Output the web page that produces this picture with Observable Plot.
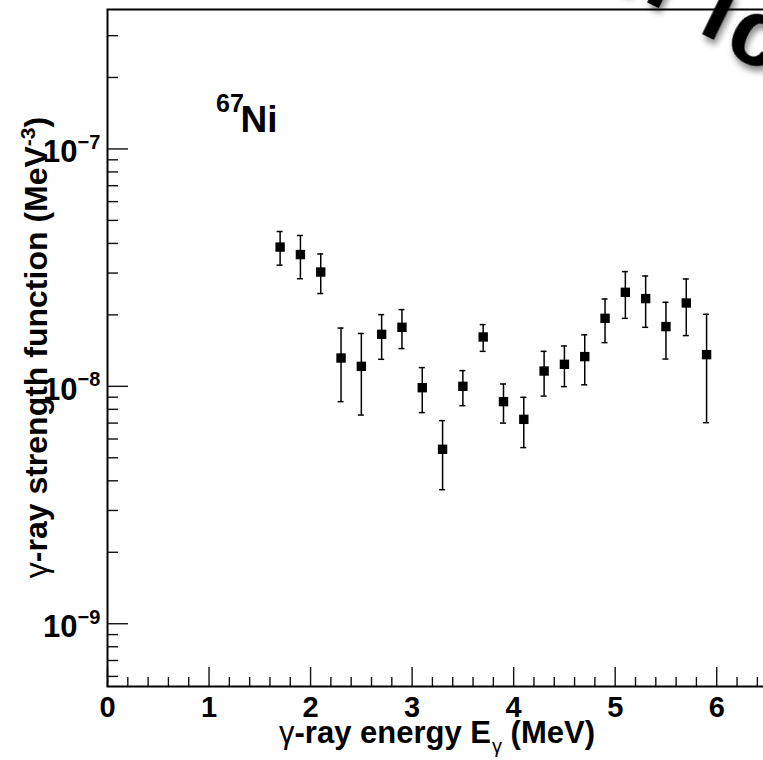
<!DOCTYPE html>
<html>
<head>
<meta charset="utf-8">
<script src="https://cdn.jsdelivr.net/npm/d3@7"></script>
<script src="https://cdn.jsdelivr.net/npm/@observablehq/plot@0.6"></script>
<style>
html, body { margin: 0; padding: 0; overflow: hidden; background: #fff; }
#chart { position: relative; width: 767px; height: 760px; overflow: hidden; }
#chart svg { max-width: none !important; }
</style>
</head>
<body>
<div id="chart"></div>
<script>
// ---- data ----
const energy   = [1.7, 1.9, 2.1, 2.3, 2.5, 2.7, 2.9, 3.1, 3.3, 3.5, 3.7, 3.9, 4.1, 4.3, 4.5, 4.7, 4.9, 5.1, 5.3, 5.5, 5.7, 5.9];
const strength = [3.86e-8, 3.59e-8, 3.03e-8, 1.316e-8, 1.214e-8, 1.656e-8, 1.773e-8, 9.87e-9, 5.43e-9, 1.0e-8, 1.614e-8, 8.62e-9, 7.26e-9, 1.16e-8, 1.238e-8, 1.334e-8, 1.934e-8, 2.489e-8, 2.342e-8, 1.785e-8, 2.244e-8, 1.36e-8];
const upper    = [4.49e-8, 4.32e-8, 3.61e-8, 1.76e-8, 1.67e-8, 2.005e-8, 2.105e-8, 1.199e-8, 7.17e-9, 1.165e-8, 1.82e-8, 1.023e-8, 8.99e-9, 1.404e-8, 1.479e-8, 1.648e-8, 2.333e-8, 3.043e-8, 2.916e-8, 2.259e-8, 2.833e-8, 2.011e-8];
const lower    = [3.24e-8, 2.84e-8, 2.46e-8, 8.62e-9, 7.57e-9, 1.30e-8, 1.442e-8, 7.75e-9, 3.67e-9, 8.29e-9, 1.404e-8, 7.0e-9, 5.52e-9, 9.10e-9, 9.97e-9, 1.015e-8, 1.528e-8, 1.934e-8, 1.773e-8, 1.303e-8, 1.636e-8, 7.03e-9];

const xMajorTicks = [0, 1, 2, 3, 4, 5, 6];
const xMinorTicks = [0.2, 0.4, 0.6, 0.8, 1.2, 1.4, 1.6, 1.8, 2.2, 2.4, 2.6, 2.8, 3.2, 3.4, 3.6, 3.8, 4.2, 4.4, 4.6, 4.8, 5.2, 5.4, 5.6, 5.8, 6.2, 6.4];
const yMajorTicks = [1e-9, 1e-8, 1e-7];
const yTickBase = "10";
const yTickExponents = ["\u22129", "\u22128", "\u22127"];
const yMinorTicks = [6e-10, 7e-10, 8e-10, 9e-10,
  2e-9, 3e-9, 4e-9, 5e-9, 6e-9, 7e-9, 8e-9, 9e-9,
  2e-8, 3e-8, 4e-8, 5e-8, 6e-8, 7e-8, 8e-8, 9e-8,
  2e-7, 3e-7];

const isotopeMass = "67";
const isotopeSymbol = "Ni";
const watermarkLetters = ["n", "i", "c"];

const data = energy.map((x, i) => ({x, y: strength[i], lo: lower[i], hi: upper[i]}));

// ---- layout ----
const W = 767, H = 760, mL = 107, mT = 9, mB = 74;
const frameW = W - mL, frameH = H - mT - mB;
const FONT = "'Liberation Sans', Arial, Helvetica, sans-serif";

const plot = Plot.plot({
  width: W, height: H,
  marginLeft: mL, marginRight: 0, marginTop: mT, marginBottom: mB,
  style: {fontFamily: FONT, background: "white", color: "black", maxWidth: "none", overflow: "visible"},
  x: {domain: [0, 6.5], axis: null},
  y: {type: "log", domain: [5.44e-10, 3.867e-7], axis: null},
  marks: [
    // inward ticks
    Plot.ruleX(xMinorTicks, {x: d => d, insetTop: frameH - 9, stroke: "#111", strokeWidth: 1.4}),
    Plot.ruleX(xMajorTicks, {x: d => d, insetTop: frameH - 19, stroke: "#111", strokeWidth: 1.4}),
    Plot.ruleY(yMinorTicks, {y: d => d, insetRight: frameW - 11, stroke: "#111", strokeWidth: 1.4}),
    Plot.ruleY(yMajorTicks, {y: d => d, insetRight: frameW - 21, stroke: "#111", strokeWidth: 1.4}),
    Plot.frame({stroke: "black", strokeWidth: 2}),
    // tick labels
    Plot.text(xMajorTicks, {x: d => d, frameAnchor: "bottom", lineAnchor: "top", dy: 10,
      text: d => String(d), fontSize: 29, fontWeight: "bold", fill: "black"}),
    Plot.text(yMajorTicks, {y: d => d, frameAnchor: "left", textAnchor: "end", dx: -30, dy: 3.5,
      text: () => yTickBase, fontSize: 31, fontWeight: "bold", fill: "black"}),
    Plot.text(yMajorTicks, {y: d => d, frameAnchor: "left", textAnchor: "start", dx: -30, dy: -6.5,
      text: (d, i) => yTickExponents[i], fontSize: 20, fontWeight: "bold", fill: "black"}),
    // error bars
    Plot.ruleX(data, {x: "x", y1: "lo", y2: "hi", stroke: "black", strokeWidth: 1.5}),
    Plot.ruleY(data, {y: "hi", x1: "x", x2: "x", insetLeft: -3, insetRight: -3, stroke: "black", strokeWidth: 1.5}),
    Plot.ruleY(data, {y: "lo", x1: "x", x2: "x", insetLeft: -3, insetRight: -3, stroke: "black", strokeWidth: 1.5}),
    // markers
    Plot.dot(data, {x: "x", y: "y", symbol: "square", r: 5.3, fill: "black", stroke: "none"})
  ]
});

const svg = d3.select(plot);

// isotope label
svg.append("text").attr("x", 230).attr("y", 111.5)
  .attr("font-family", FONT).attr("font-size", 25).attr("font-weight", "bold").text(isotopeMass);
svg.append("text").attr("x", 259).attr("y", 132)
  .attr("font-family", FONT).attr("font-size", 37).attr("font-weight", "bold").text(isotopeSymbol);

// x axis title
const xt = svg.append("text").attr("x", mL + frameW / 2).attr("y", 743)
  .attr("text-anchor", "middle").attr("font-family", FONT).attr("font-size", 31).attr("font-weight", "bold");
xt.append("tspan").attr("font-weight", "normal").text("\u03b3");
xt.append("tspan").text("-ray energy E");
xt.append("tspan").attr("font-weight", "normal").attr("font-size", 20).attr("dy", 10).attr("dx", 1).text("\u03b3");
xt.append("tspan").attr("dy", -10).text(" (MeV)");

// y axis title
const yt = svg.append("text").attr("transform", `translate(47,${mT + frameH / 2}) rotate(-90)`)
  .attr("text-anchor", "middle").attr("font-family", FONT).attr("font-size", 32).attr("font-weight", "bold");
yt.append("tspan").attr("font-weight", "normal").text("\u03b3");
yt.append("tspan").text("-ray strength function (MeV");
yt.append("tspan").attr("font-size", 21).attr("dy", -12).text("-3");
yt.append("tspan").attr("dy", 12).text(")");

// partially visible rotated watermark letters at the top right (each placed on its own)
const wmAnchors = [[638, -2], [708, 37], [745, 62]];
watermarkLetters.forEach((ch, i) => {
  svg.append("text")
    .attr("transform", `translate(${wmAnchors[i][0]},${wmAnchors[i][1]}) rotate(26)`)
    .attr("font-family", FONT).attr("font-size", 95).attr("font-weight", "bold").attr("fill", "black")
    .style("filter", "drop-shadow(4px 4px 3px rgba(0,0,0,0.45))")
    .text(ch);
});

document.getElementById("chart").appendChild(plot);
</script>
</body>
</html>
